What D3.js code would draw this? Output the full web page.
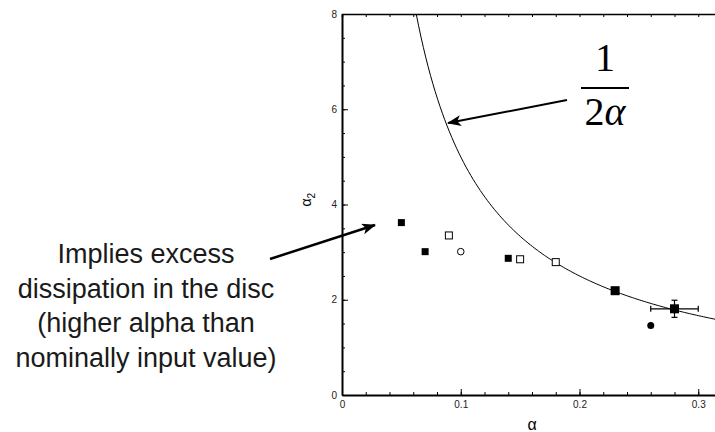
<!DOCTYPE html>
<html>
<head>
<meta charset="utf-8">
<script src="https://cdn.jsdelivr.net/npm/d3@7"></script>
<style>
  body { margin: 0; background: #fff; }
  svg { display: block; }
  .axis text { font-family: "Liberation Sans", Arial, sans-serif; font-size: 10px; fill: #222; }
  .axis path, .axis line { stroke: #000; }
</style>
</head>
<body>
<div id="chart"></div>
<script>
// values
var xTicks = [0, 0.1, 0.2, 0.3];
var yTicks = [0, 2, 4, 6, 8];

var filledSqAlpha  = [0.05, 0.07, 0.14, 0.23, 0.28];
var filledSqAlpha2 = [3.62, 3.01, 2.87, 2.19, 1.81];
var openSqAlpha    = [0.09, 0.15, 0.18];
var openSqAlpha2   = [3.35, 2.85, 2.79];
var openCircAlpha  = [0.10];
var openCircAlpha2 = [3.01];
var fillCircAlpha  = [0.26];
var fillCircAlpha2 = [1.46];
var errAlpha = 0.28, errAlpha2 = 1.81, errDx = 0.02, errDy = 0.18;

var noteLines = ["Implies excess", "dissipation in the disc", "(higher alpha than", "nominally input value)"];

var width = 715, height = 432;
var margin = {top: 14, left: 342, bottom: 37};
var plotW = 380, plotH = height - margin.top - margin.bottom;

var x = d3.scaleLinear().domain([0, 0.32]).range([0, plotW]);
var y = d3.scaleLinear().domain([0, 8]).range([plotH, 0]);

var svg = d3.select("#chart").append("svg")
    .attr("width", width)
    .attr("height", height);

var defs = svg.append("defs");
defs.append("clipPath").attr("id", "clip")
    .append("rect").attr("width", plotW).attr("height", plotH);
defs.append("marker")
    .attr("id", "head")
    .attr("viewBox", "0 0 14 11")
    .attr("refX", 13).attr("refY", 5.5)
    .attr("markerWidth", 14).attr("markerHeight", 11)
    .attr("markerUnits", "userSpaceOnUse")
    .attr("orient", "auto")
    .append("path")
    .attr("d", "M0,0 L14,5.5 L0,11 L3.5,5.5 Z")
    .attr("fill", "#000");

var g = svg.append("g")
    .attr("transform", "translate(" + margin.left + "," + margin.top + ")");

// minor ticks
g.append("g").attr("class", "axis")
    .attr("transform", "translate(0," + plotH + ")")
    .call(d3.axisBottom(x).tickValues(d3.range(0, 0.321, 0.02)).tickSize(-3).tickFormat(""))
    .select(".domain").remove();
g.append("g").attr("class", "axis")
    .call(d3.axisTop(x).tickValues(d3.range(0, 0.321, 0.02)).tickSize(-3).tickFormat(""))
    .select(".domain").attr("stroke-width", 1.5);
g.append("g").attr("class", "axis")
    .call(d3.axisLeft(y).tickValues(d3.range(0, 8.01, 0.5)).tickSize(-3).tickFormat(""))
    .select(".domain").remove();

// major axes
var xAxis = d3.axisBottom(x).tickValues(xTicks).tickSizeInner(-6).tickSizeOuter(0).tickPadding(6)
    .tickFormat(function (d) { return d === 0 ? "0" : d3.format(".1f")(d); });
var xg = g.append("g").attr("class", "axis")
    .attr("transform", "translate(0," + plotH + ")")
    .call(xAxis);
xg.select(".domain").attr("stroke-width", 2);

var yAxis = d3.axisLeft(y).tickValues(yTicks).tickSizeInner(-6).tickSizeOuter(0).tickPadding(5);
var yg = g.append("g").attr("class", "axis").call(yAxis);
yg.select(".domain").attr("stroke-width", 2);

// axis titles
g.append("text")
    .attr("x", x(0.16)).attr("y", plotH + 35)
    .attr("text-anchor", "middle")
    .style("font-family", "Liberation Sans, Arial, sans-serif")
    .style("font-size", "16px")
    .text("α");
var yt = g.append("text")
    .attr("transform", "translate(-31," + y(4.1) + ") rotate(-90)")
    .attr("text-anchor", "middle")
    .style("font-family", "Liberation Sans, Arial, sans-serif")
    .style("font-size", "14px");
yt.append("tspan").text("α");
yt.append("tspan").attr("dy", 4).style("font-size", "10px").text("2");

// 1/(2 alpha) curve
var curveX = d3.range(1 / 16, 0.3201, 0.002);
g.append("path")
    .datum(curveX)
    .attr("clip-path", "url(#clip)")
    .attr("fill", "none")
    .attr("stroke", "#000")
    .attr("stroke-width", 1)
    .attr("d", d3.line()
        .x(function (d) { return x(d); })
        .y(function (d) { return y(1 / (2 * d)); }));

// error bars
var eb = g.append("g").attr("stroke", "#000").attr("stroke-width", 1.2);
eb.append("line")
    .attr("x1", x(errAlpha - errDx)).attr("x2", x(errAlpha + errDx))
    .attr("y1", y(errAlpha2)).attr("y2", y(errAlpha2));
eb.append("line")
    .attr("x1", x(errAlpha)).attr("x2", x(errAlpha))
    .attr("y1", y(errAlpha2 - errDy)).attr("y2", y(errAlpha2 + errDy));
[errAlpha - errDx, errAlpha + errDx].forEach(function (v) {
    eb.append("line").attr("x1", x(v)).attr("x2", x(v))
        .attr("y1", y(errAlpha2) - 3).attr("y2", y(errAlpha2) + 3);
});
[errAlpha2 - errDy, errAlpha2 + errDy].forEach(function (v) {
    eb.append("line").attr("x1", x(errAlpha) - 3).attr("x2", x(errAlpha) + 3)
        .attr("y1", y(v)).attr("y2", y(v));
});

// markers
g.selectAll(".fsq")
    .data(d3.zip(filledSqAlpha, filledSqAlpha2))
    .enter().append("rect")
    .attr("class", "fsq")
    .each(function (d) {
        var s = d[0] > 0.2 ? 9 : 7;
        d3.select(this)
            .attr("x", x(d[0]) - s / 2).attr("y", y(d[1]) - s / 2)
            .attr("width", s).attr("height", s);
    })
    .attr("fill", "#000");

g.selectAll(".osq")
    .data(d3.zip(openSqAlpha, openSqAlpha2))
    .enter().append("rect")
    .attr("class", "osq")
    .attr("x", function (d) { return x(d[0]) - 3.5; })
    .attr("y", function (d) { return y(d[1]) - 3.5; })
    .attr("width", 7).attr("height", 7)
    .attr("fill", "#fff")
    .attr("stroke", "#000")
    .attr("stroke-width", 1);

g.selectAll(".ocirc")
    .data(d3.zip(openCircAlpha, openCircAlpha2))
    .enter().append("circle")
    .attr("cx", function (d) { return x(d[0]); })
    .attr("cy", function (d) { return y(d[1]); })
    .attr("r", 3.3)
    .attr("fill", "#fff").attr("stroke", "#000").attr("stroke-width", 1);

g.selectAll(".fcirc")
    .data(d3.zip(fillCircAlpha, fillCircAlpha2))
    .enter().append("circle")
    .attr("cx", function (d) { return x(d[0]); })
    .attr("cy", function (d) { return y(d[1]); })
    .attr("r", 3.5)
    .attr("fill", "#000");

// annotations
svg.append("line")
    .attr("x1", 567).attr("y1", 100).attr("x2", 448).attr("y2", 123)
    .attr("stroke", "#000").attr("stroke-width", 2)
    .attr("marker-end", "url(#head)");
svg.append("line")
    .attr("x1", 270).attr("y1", 259).attr("x2", 375).attr("y2", 225)
    .attr("stroke", "#000").attr("stroke-width", 2.5)
    .attr("marker-end", "url(#head)");

var frac = svg.append("g")
    .style("font-family", "Liberation Serif, Times New Roman, serif")
    .style("font-size", "40px");
frac.append("text").attr("x", 605).attr("y", 71).attr("text-anchor", "middle").text("1");
frac.append("line").attr("x1", 581).attr("x2", 629).attr("y1", 88).attr("y2", 88)
    .attr("stroke", "#000").attr("stroke-width", 2);
var den = frac.append("text").attr("x", 605).attr("y", 125).attr("text-anchor", "middle");
den.append("tspan").text("2");
den.append("tspan").style("font-style", "italic").text("α");

svg.append("g")
    .selectAll("text")
    .data(noteLines)
    .enter().append("text")
    .attr("x", 146)
    .attr("y", function (d, i) { return 263 + i * 34.5; })
    .attr("text-anchor", "middle")
    .style("font-family", "Liberation Sans, Arial, sans-serif")
    .style("font-size", "27px")
    .style("fill", "#1a1a1a")
    .text(function (d) { return d; });
</script>
</body>
</html>
